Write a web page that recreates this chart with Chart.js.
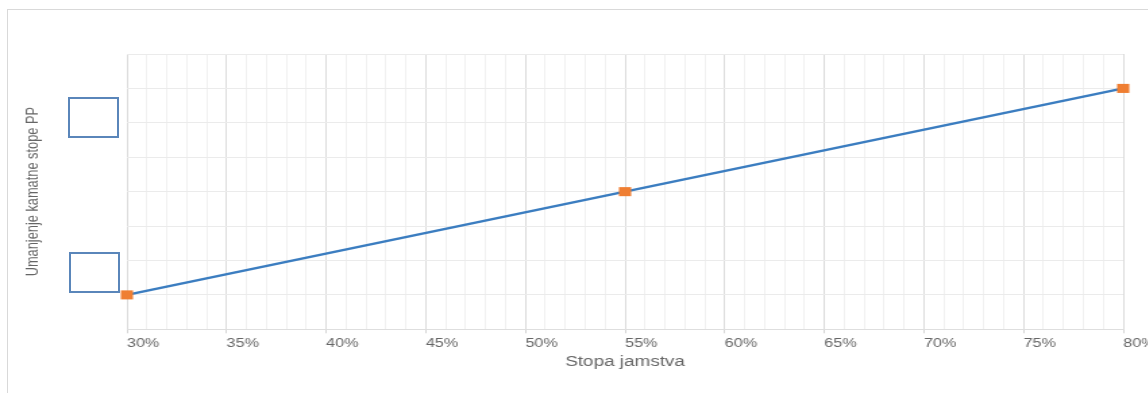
<!DOCTYPE html>
<html>
<head>
<meta charset="utf-8">
<script src="https://cdn.jsdelivr.net/npm/chart.js@4.4.0/dist/chart.umd.min.js"></script>
<style>
  html, body { margin: 0; padding: 0; background: #fff; overflow: hidden; width: 1148px; height: 393px; }
  #frame { position: absolute; left: 7px; top: 9px; width: 1300px; height: 500px;
           border-left: 1px solid #d9d9d9; border-top: 1px solid #d9d9d9; }
  #wrap { position: absolute; left: 0; top: 0; width: 880px; height: 393px;
          transform: scale(1.35, 1); transform-origin: 0 0; }
  .box { position: absolute; box-sizing: border-box; width: 51px; height: 41px;
         border: 2px solid #5a86ba; background: #fff; }
</style>
</head>
<body>
<div id="frame"></div>
<div id="wrap"><canvas id="mychart" width="880" height="393"></canvas></div>
<div class="box" style="left:68px; top:97px;"></div>
<div class="box" style="left:69px; top:252px;"></div>
<script>
const ctx = document.getElementById('mychart')

// podaci
const stopaJamstva = [30, 55, 80];
const umanjenje = [0.1, 0.4, 0.7];
const xMajorTicks = [30, 35, 40, 45, 50, 55, 60, 65, 70, 75, 80];

Chart.defaults.font.family = "'Liberation Sans', Arial, sans-serif";
Chart.defaults.color = '#666';

const isMajor = (v) => xMajorTicks.includes(Math.round(v * 1000) / 1000);

var chart = new Chart(ctx, {
    type: 'line',
    data: {
        datasets: [{
            data: stopaJamstva.map((x, i) => ({ x: x, y: umanjenje[i] })),
            borderColor: '#3b7dc0',
            borderWidth: 2.5,
            pointStyle: 'rect',
            pointRadius: 6.4,
            pointHoverRadius: 6.4,
            pointBackgroundColor: '#ef7e32',
            pointBorderColor: '#ef7e32',
            pointBorderWidth: 0,
            clip: false,
            tension: 0
        }],
    },
    options: {
        responsive: false,
        animation: false,
        events: [],
        layout: {
            padding: { left: 13, right: 48, top: 54, bottom: 18.5 }
        },
        plugins: {
            legend: { display: false },
            tooltip: { enabled: false }
        },
        scales: {
            x: {
                type: 'linear',
                min: 30,
                max: 80,
                grid: {
                    color: (c) => isMajor(c.tick.value) ? '#dcdcdc' : '#f1f1f1',
                    tickColor: (c) => isMajor(c.tick.value) ? '#d6d6d6' : 'rgba(0,0,0,0)',
                    tickLength: 4
                },
                border: { color: '#dedede' },
                ticks: {
                    stepSize: 1,
                    autoSkip: false,
                    maxRotation: 0,
                    align: 'start',
                    padding: 3,
                    font: { size: 12 },
                    color: '#666',
                    callback: (v) => isMajor(v) ? v + '%' : ''
                },
                title: {
                    display: true,
                    text: 'Stopa jamstva',
                    font: { size: 14 },
                    color: '#666',
                    padding: { top: 0, bottom: 4 }
                }
            },
            y: {
                min: 0,
                max: 0.8,
                grid: {
                    color: '#ebebeb',
                    drawTicks: false
                },
                border: { display: false },
                ticks: {
                    display: false,
                    stepSize: 0.1
                },
                title: {
                    display: true,
                    text: 'Umanjenje kamatne stope PP',
                    font: { size: 12.8 },
                    color: '#666',
                    padding: 4
                },
                afterFit: (scale) => { scale.width = 81; }
            }
        }
    }
});
</script>
</body>
</html>
